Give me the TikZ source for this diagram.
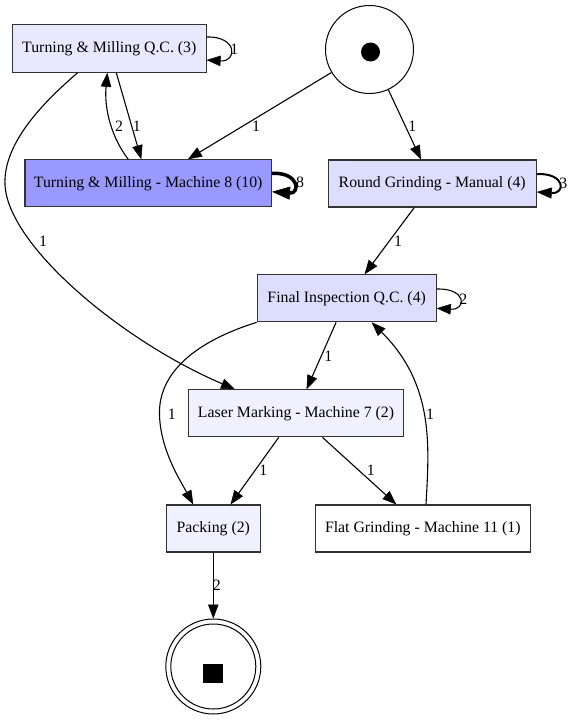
\documentclass[tikz,border=0pt]{standalone}
\usepackage{fontspec}
\setmainfont{Liberation Serif}
\usetikzlibrary{arrows.meta,calc}
\definecolor{cQC}{RGB}{232,232,255}
\definecolor{cM8}{RGB}{153,153,255}
\definecolor{cMid}{RGB}{221,221,255}
\definecolor{cLight}{RGB}{240,240,255}
\begin{document}
\begin{tikzpicture}[x=1pt,y=-1pt,
  box/.style={draw=black!80, line width=1.1pt, rectangle, inner sep=0pt,
    font=\fontsize{15.8}{18}\selectfont},
  edge/.style={draw, line width=1.1pt, -{Triangle[length=14pt,width=10.5pt,line width=0.5pt]}},
  lbl/.style={inner sep=0pt, font=\fontsize{15.8}{18}\selectfont},
  place/.style={draw=black, line width=1pt, circle, inner sep=0pt}]
\useasboundingbox (0,0) rectangle (574,720);

% nodes
\node[box, fill=cQC, minimum width=193.5pt, minimum height=47.5pt] (tmqc) at (109.3,48.5) {Turning \& Milling Q.C. (3)};
\node[box, fill=cM8, minimum width=246.5pt, minimum height=47pt] (tm8) at (148.2,183.3) {Turning \& Milling - Machine 8 (10)};
\node[place, minimum size=88pt] (start) at (369.5,49.5) {};
\node[box, fill=cMid, minimum width=208pt, minimum height=47pt] (rgm) at (432.2,183.5) {Round Grinding - Manual (4)};
\node[box, fill=cMid, minimum width=179pt, minimum height=47pt] (fiqc) at (346.7,298.3) {Final Inspection Q.C. (4)};
\node[box, fill=cLight, minimum width=215.5pt, minimum height=47pt] (lm7) at (296,413.3) {Laser Marking - Machine 7 (2)};
\node[box, fill=cLight, minimum width=93.5pt, minimum height=47pt] (pack) at (213.3,528.5) {Packing (2)};
\node[box, fill=white, minimum width=214.5pt, minimum height=47pt] (fg11) at (422.8,528.5) {Flat Grinding - Machine 11 (1)};
\node[place, minimum size=95pt] (end) at (213.3,666.5) {};

% tokens / inner ring
\fill ($(start)+(1,2.5)$) circle (9.5pt);
\draw[line width=1pt] (end) circle (42.5pt);
\fill ($(end)+(-10.3,-2.6)$) rectangle ($(end)+(9.7,16.4)$);

% edges
\draw[edge] ([yshift=11.5pt]tmqc.east) .. controls +(31,-1) and +(31,2) .. ([yshift=-11.5pt]tmqc.east)
  node[lbl, at={(234.3,49.3)}] {1};
\draw[edge] (tmqc) -- (tm8) node[lbl, at={(136.7,126)}] {1};
\draw[edge] ([xshift=-20pt]tm8.north) .. controls (112,138) and (104,110) .. ([xshift=-2pt]tmqc.south)
  node[lbl, at={(119,126)}] {2};
\draw[edge] (start) -- (tm8) node[lbl, at={(256,126)}] {1};
\draw[edge] (start) -- (rgm) node[lbl, at={(412.3,126)}] {1};
\draw[line width=3.5pt, -{Triangle[length=18pt,width=13pt,line width=0.5pt]}] ([yshift=10pt]tm8.east) .. controls +(28,-1) and +(28,2) .. ([yshift=-8.5pt]tm8.east)
  node[lbl, at={(300,182.7)}] {8};
\draw[line width=2pt, -{Triangle[length=15pt,width=11pt,line width=0.5pt]}] ([yshift=9.5pt]rgm.east) .. controls +(29,-1) and +(29,2) .. ([yshift=-8.5pt]rgm.east)
  node[lbl, at={(563.3,183.3)}] {3};
\draw[edge] (rgm) -- (fiqc) node[lbl, at={(398,241)}] {1};
\draw[edge] ([xshift=-31.7pt]tmqc.south) .. controls (40,105) and (3,145) .. (5,185)
  .. controls (8,245) and (120,340) .. ([xshift=-61pt]lm7.north)
  node[lbl, at={(43,241)}] {1};
\draw[edge] ([yshift=9.3pt]fiqc.east) .. controls +(30,-1) and +(30,2) .. ([yshift=-10pt]fiqc.east)
  node[lbl, at={(463.3,299.3)}] {2};
\draw[edge] (fiqc) -- (lm7) node[lbl, at={(328.3,356)}] {1};
\draw[edge] (fiqc.south west) .. controls (197,341) and (158,372) .. (159.5,415)
  .. controls (160.5,450) and (180,480) .. ([xshift=-20pt]pack.north)
  node[lbl, at={(171.7,414)}] {1};
\draw[edge] ([xshift=3.2pt]fg11.north) .. controls (429,448) and (435,385) .. ([xshift=25pt]fiqc.south)
  node[lbl, at={(430,414)}] {1};
\draw[edge] (lm7) -- (pack) node[lbl, at={(263.3,470.7)}] {1};
\draw[edge] (lm7) -- (fg11) node[lbl, at={(370.7,470.7)}] {1};
\draw[edge] (pack) -- (end) node[lbl, at={(216.7,585)}] {2};
\end{tikzpicture}
\end{document}
